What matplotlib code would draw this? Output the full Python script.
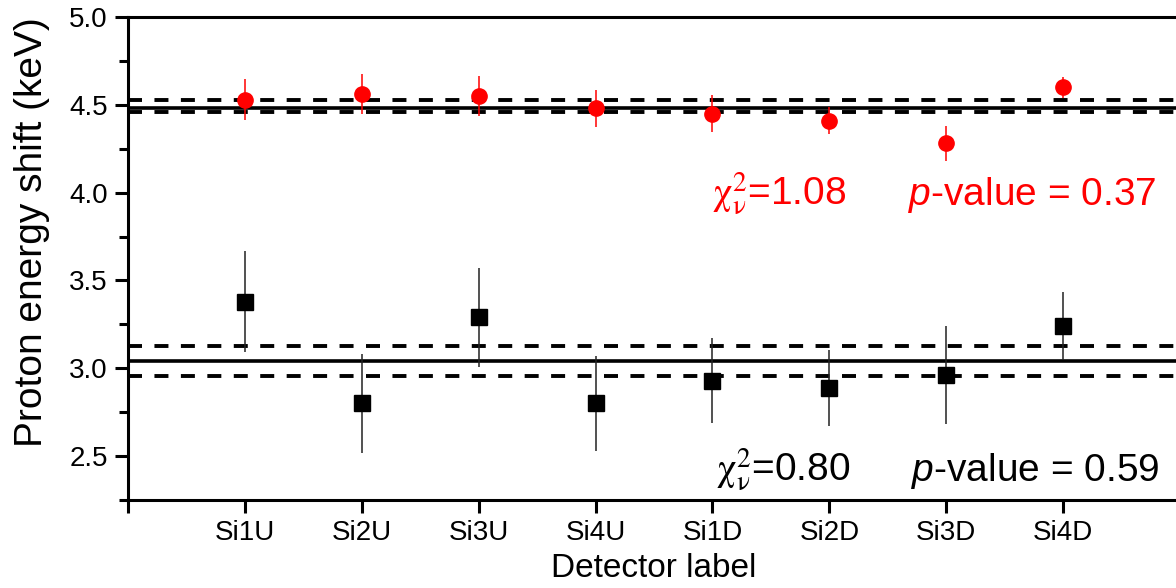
import matplotlib
matplotlib.use("Agg")
import matplotlib.pyplot as plt
import numpy as np

# Detector labels and fitted proton energy shifts (keV)
detectors = ["Si1U", "Si2U", "Si3U", "Si4U", "Si1D", "Si2D", "Si3D", "Si4D"]

red_shift = [4.53, 4.56, 4.55, 4.48, 4.45, 4.41, 4.28, 4.60]
red_err = [0.117, 0.115, 0.115, 0.105, 0.104, 0.078, 0.100, 0.060]
red_mean = 4.48
red_band = [4.46, 4.53]

black_shift = [3.38, 2.80, 3.29, 2.80, 2.93, 2.89, 2.96, 3.24]
black_err = [0.286, 0.280, 0.280, 0.270, 0.240, 0.216, 0.280, 0.195]
black_mean = 3.04
black_band = [2.956, 3.127]

red_chi2 = "1.08"
red_pvalue = "0.37"
black_chi2 = "0.80"
black_pvalue = "0.59"

plt.rcParams["font.family"] = ["Liberation Sans", "DejaVu Sans"]
plt.rcParams["mathtext.fontset"] = "custom"
plt.rcParams["mathtext.rm"] = "Liberation Sans"
plt.rcParams["mathtext.it"] = "Liberation Sans:italic"

W, H = 1176, 588
fig = plt.figure(figsize=(W / 100, H / 100), dpi=100)
ax = fig.add_axes([128 / W, 88 / H, 1052 / W, 483 / H])

x = np.arange(1, len(detectors) + 1)

# weighted means with their uncertainty bands
for mean, band in ((red_mean, red_band), (black_mean, black_band)):
    ax.axhline(mean, color="black", lw=2.6, zorder=1)
    for b in band:
        ax.axhline(b, color="black", lw=2.8, dashes=(3.6, 3.2), zorder=1)

ax.errorbar(x, red_shift, yerr=red_err, fmt="o", color="red", mec="red",
            ms=11, elinewidth=1.1, capsize=0, zorder=3)
ax.errorbar(x, black_shift, yerr=black_err, fmt="s", color="black",
            ecolor="#222222", ms=11, elinewidth=1.1, capsize=0, zorder=3)

ax.set_xlim(0, 9)
ax.set_ylim(2.25, 5.0)
ax.set_xticks(np.arange(0, 10))
ax.set_xticklabels([""] + detectors + [""])
ax.set_yticks(np.arange(2.5, 5.01, 0.5))
ax.set_yticks(np.arange(2.25, 5.0, 0.5), minor=True)
ax.yaxis.set_major_formatter(matplotlib.ticker.FormatStrFormatter("%.1f"))

for s in ax.spines.values():
    s.set_linewidth(2.2)
ax.tick_params(axis="both", which="major", direction="out", length=9.5,
               width=2.2, top=False, right=False)
ax.tick_params(axis="y", which="minor", direction="out", length=6.5,
               width=2.2, right=False)
ax.tick_params(axis="y", which="major", labelsize=20, pad=5)
ax.tick_params(axis="x", which="major", labelsize=20, pad=5)

ax.set_xlabel("Detector label", fontsize=24, labelpad=5)
ax.set_ylabel("Proton energy shift (keV)", fontsize=28)
ax.yaxis.set_label_coords(-0.074, 0.555)

chi_label = r"$\mathrm{\chi}^2_\mathrm{\nu}$="
ax.text(5.0, 3.932, chi_label + red_chi2, color="red", fontsize=28,
        va="baseline", math_fontfamily="stix")
ax.text(6.675, 3.932, r"$p$-value = " + red_pvalue, color="red", fontsize=28,
        va="baseline")
ax.text(5.03, 2.358, chi_label + black_chi2, color="black", fontsize=28,
        va="baseline", math_fontfamily="stix")
ax.text(6.70, 2.358, r"$p$-value = " + black_pvalue, color="black", fontsize=28,
        va="baseline")

fig.savefig("out.png", dpi=100)
